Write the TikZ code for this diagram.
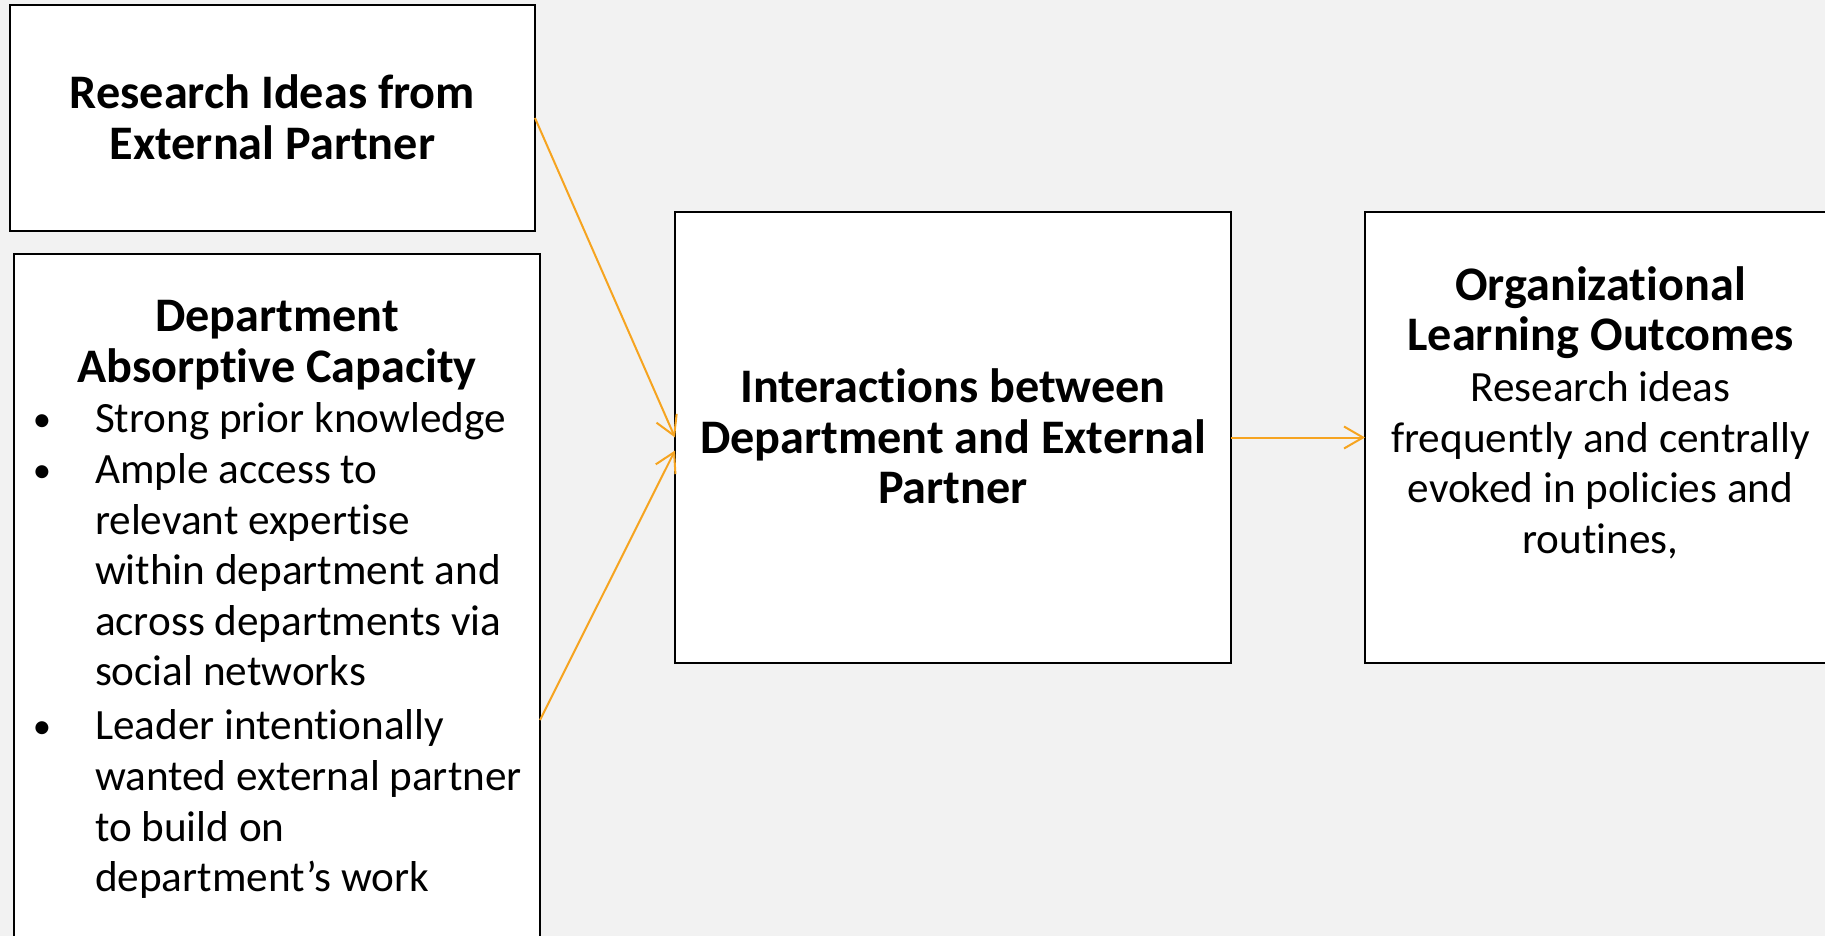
\documentclass[tikz,border=0pt]{standalone}
\usepackage{fontspec}
\setmainfont{Carlito}[Ligatures={NoCommon}]
\usetikzlibrary{arrows.meta}
\definecolor{bg}{HTML}{F2F2F2}
\definecolor{arr}{RGB}{246,164,32}
\newcommand\reg{\fontsize{43.2pt}{50.6pt}\selectfont\mdseries}
\newcommand\bld{\fontsize{48.2pt}{50.6pt}\selectfont\bfseries}
\newcommand\fl{\rule{0pt}{40pt}}
\newcommand\inbox[4]{\parbox[c][#2][t]{#1}{\vspace*{\dimexpr#3-40pt\relax}#4}}
\newcommand\bul[1]{\makebox[81pt][l]{\hspace*{28pt}\makebox[0pt]{\raisebox{1pt}{\scalebox{0.85}{\textbullet}}}}#1}
\newcommand\cont[1]{\hspace*{81pt}#1}
\tikzset{
  x=1pt, y=-1pt,
  boxnode/.style={draw=black, fill=white, line width=2.2pt, inner sep=0pt, outer sep=0pt},
  flow/.style={draw=arr, line width=2pt, -{Straight Barb[length=19pt,width=22pt]}}
}
\begin{document}
\begin{tikzpicture}
\useasboundingbox (0,0) rectangle (1825,936);
\fill[bg] (0,0) rectangle (1825,936);
\clip (0,0) rectangle (1825,936);

\node[boxnode] (b1) at (272.5,118) {\inbox{525pt}{226pt}{104pt}{\centering\bld\fl Research Ideas from\\External Partner}};

\node[boxnode] (b2) at (277,720) {\inbox{526pt}{932pt}{77.7pt}{%
{\centering\bld\fl Department\\Absorptive Capacity\par}
\raggedright\reg
\bul{Strong prior knowledge}\\
\bul{Ample access to}\\
\cont{relevant expertise}\\
\cont{within department and}\\
\cont{across departments via}\\
\cont{social networks}\\[3.4pt]
\bul{Leader intentionally}\\
\cont{wanted external partner}\\
\cont{to build on}\\
\cont{department’s work}}};

\node[boxnode] (b3) at (953,437.5) {\inbox{556pt}{451pt}{190.5pt}{\centering\bld\fl Interactions between\\Department and External\\Partner}};

\node[boxnode] (b4) at (1600.5,437.5) {\inbox{471pt}{451pt}{88.3pt}{\centering\bld\fl Organizational\\Learning Outcomes\\\reg Research ideas\\frequently and centrally\\evoked in policies and\\routines,}};

\draw[flow] (b1.east) -- (b3.west);
\draw[flow] (b2.east) -- ([yshift=-13pt]b3.west);
\draw[flow] (b3.east) -- (b4.west);
\end{tikzpicture}
\end{document}
